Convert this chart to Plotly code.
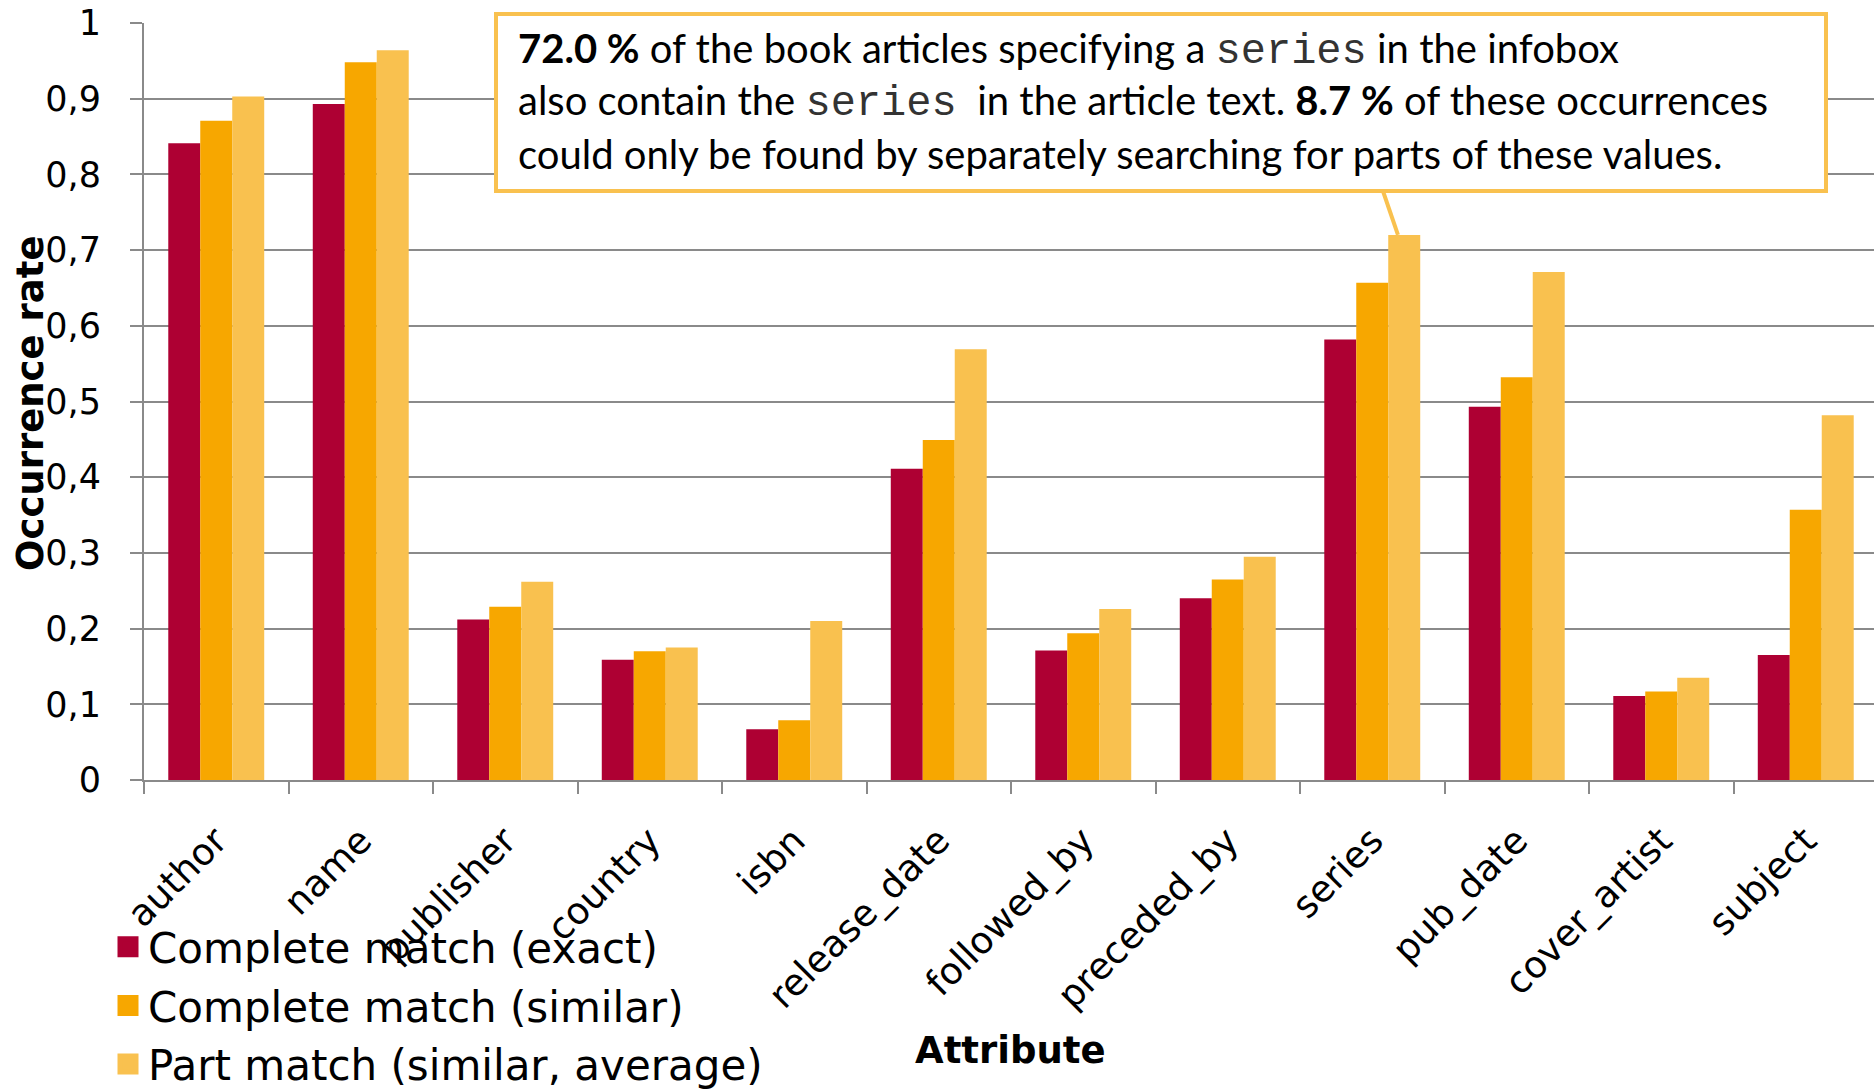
import plotly.graph_objects as go

categories = ["author", "name", "publisher", "country", "isbn", "release_date",
              "followed_by", "preceded_by", "series", "pub_date", "cover_artist", "subject"]
exact = [0.841, 0.893, 0.212, 0.159, 0.067, 0.411, 0.171, 0.240, 0.582, 0.493, 0.111, 0.165]
similar = [0.871, 0.948, 0.229, 0.170, 0.079, 0.449, 0.194, 0.265, 0.657, 0.532, 0.117, 0.357]
part = [0.903, 0.964, 0.262, 0.175, 0.210, 0.569, 0.226, 0.295, 0.720, 0.671, 0.135, 0.482]
series_names = ["Complete match (exact)", "Complete match (similar)", "Part match (similar, average)"]
colors = ["#AE0033", "#F7A700", "#F9C14F"]
y_ticks = [0, 0.1, 0.2, 0.3, 0.4, 0.5, 0.6, 0.7, 0.8, 0.9, 1]

W, H = 1874, 1089
ML, MR, MT, MB = 144, 0, 23, 309
PW = W - ML - MR
PH = H - MT - MB

def px_x(p):
    return (p - ML) / PW

def px_y(p):
    return (H - MB - p) / PH

fig = go.Figure()
for name, vals, col in zip(series_names, [exact, similar, part], colors):
    fig.add_trace(go.Bar(x=categories, y=vals, name=name, marker=dict(color=col, line=dict(width=0)),
                         showlegend=False))
# legend entries
for name, col in zip(series_names, colors):
    fig.add_trace(go.Scatter(x=[None], y=[None], mode="markers", name=name, legendgroup=name,
                             marker=dict(symbol="square", size=16, color=col, line=dict(width=5, color=col))))

grid = "#8A8A8A"
fig.update_layout(
    width=W, height=H,
    margin=dict(l=ML, r=MR, t=MT, b=MB, autoexpand=False),
    paper_bgcolor="white", plot_bgcolor="white",
    barmode="group", bargap=0.336, bargroupgap=0,
    separators=", ",
    font=dict(family="DejaVu Sans", color="black"),
    legend=dict(x=px_x(108), y=px_y(913), xanchor="left", yanchor="top",
                font=dict(family="DejaVu Sans", size=42, color="black"),
                bgcolor="rgba(0,0,0,0)", tracegroupgap=1, itemwidth=30),
    showlegend=True,
)
fig.update_xaxes(
    type="category", range=[-0.5, -0.5 + PW / 144.5], automargin=False,
    showline=True, linecolor=grid, linewidth=2,
    ticks="outside", tickson="boundaries", ticklen=12, tickcolor=grid, tickwidth=2,
    tickangle=-45, tickfont=dict(family="DejaVu Sans", size=37, color="black"),
    ticklabelstandoff=22,
    showgrid=False,
)
fig.update_yaxes(
    range=[0, 1], tickvals=y_ticks, automargin=False,
    showline=True, linecolor=grid, linewidth=2,
    ticks="outside", ticklen=12, tickcolor=grid, tickwidth=2,
    showgrid=True, gridcolor=grid, gridwidth=2,
    tickfont=dict(family="DejaVu Sans", size=35, color="black"),
    ticklabelstandoff=22,
    zeroline=False,
)

annotations = []
annotations.append(dict(text="<b>Attribute</b>", xref="paper", yref="paper", x=px_x(1010), y=px_y(1050),
                        xanchor="center", yanchor="middle", showarrow=False,
                        font=dict(family="DejaVu Sans", size=37, color="black")))
annotations.append(dict(text="<b>Occurrence rate</b>", xref="paper", yref="paper", x=px_x(30), y=px_y(403),
                        xanchor="center", yanchor="middle", showarrow=False, textangle=-90,
                        font=dict(family="DejaVu Sans", size=37, color="black")))

mono = "<span style='font-family:Liberation Mono;font-size:42px;color:#333'>series</span>"
lines = [
    "<b>72.0 %</b> of the book articles specifying a " + mono + " in the infobox",
    "also contain the " + mono + "&nbsp; in the article text. <b>8.7 %</b> of these occurrences",
    "could only be found by separately searching for parts of these values.",
]
line_y = [50, 102, 154]
for t, yy in zip(lines, line_y):
    annotations.append(dict(text=t, xref="paper", yref="paper", x=px_x(516), y=px_y(yy),
                            xanchor="left", yanchor="middle", showarrow=False, align="left",
                            font=dict(family="Lato", size=40, color="black")))
fig.update_layout(annotations=annotations)

box_col = "#F9C14F"
si = categories.index("series")
fig.add_shape(type="rect", xref="paper", yref="paper",
              x0=px_x(496), x1=px_x(1826), y0=px_y(191), y1=px_y(14),
              line=dict(color=box_col, width=4), fillcolor="white", layer="above")
fig.add_shape(type="line", xref="x", yref="y",
              x0=si + 0.074, y0=px_y(191), x1=si + 0.178, y1=part[si],
              line=dict(color=box_col, width=4), layer="above")

fig.write_html("out.html")
